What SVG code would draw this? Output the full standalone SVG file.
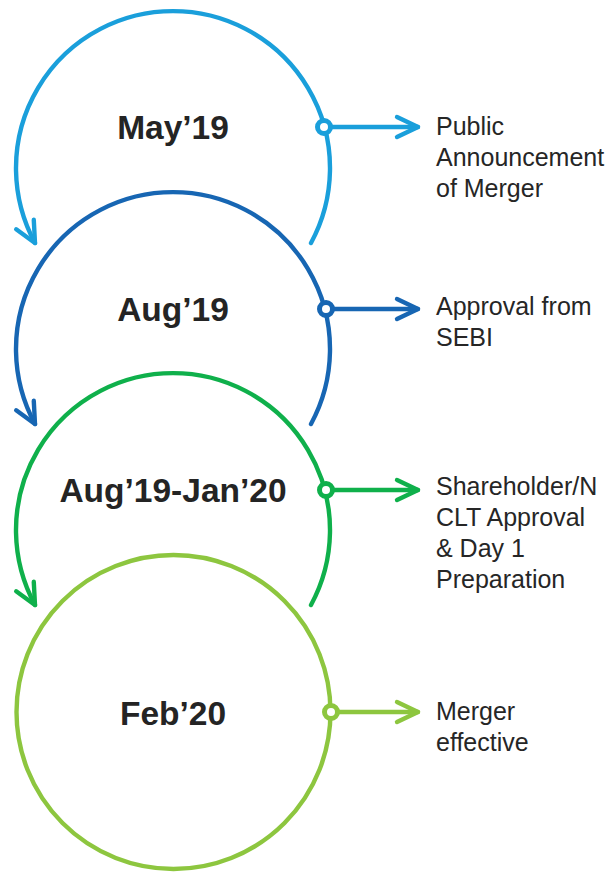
<svg xmlns="http://www.w3.org/2000/svg" width="610" height="873" viewBox="0 0 610 873">
  <style>
    .ring { fill: none; stroke-width: 4.4; stroke-linecap: round; }
    .dot { fill: #ffffff; stroke-width: 5; }
    .conn { fill: none; stroke-width: 4.4; stroke-linecap: round; }
    .date { font-family: "Liberation Sans", Arial, sans-serif; font-weight: bold; font-size: 33.5px; fill: #242424; text-anchor: middle; }
    .desc { font-family: "Liberation Sans", Arial, sans-serif; font-size: 25px; fill: #262626; }
    .c1 { stroke: #1a9fdb; }
    .c2 { stroke: #1766b3; }
    .c3 { stroke: #0fb04b; }
    .c4 { stroke: #8dc63f; }
  </style>
  <defs>
    <marker id="ah1" markerUnits="userSpaceOnUse" viewBox="-26 -14 30 28" refX="0" refY="0" markerWidth="30" markerHeight="28" orient="auto">
      <path d="M -21 -10 L 0 0 L -21 10" fill="none" stroke="#1a9fdb" stroke-width="4.4" stroke-linecap="round" stroke-linejoin="round"/>
    </marker>
    <marker id="ah2" markerUnits="userSpaceOnUse" viewBox="-26 -14 30 28" refX="0" refY="0" markerWidth="30" markerHeight="28" orient="auto">
      <path d="M -21 -10 L 0 0 L -21 10" fill="none" stroke="#1766b3" stroke-width="4.4" stroke-linecap="round" stroke-linejoin="round"/>
    </marker>
    <marker id="ah3" markerUnits="userSpaceOnUse" viewBox="-26 -14 30 28" refX="0" refY="0" markerWidth="30" markerHeight="28" orient="auto">
      <path d="M -21 -10 L 0 0 L -21 10" fill="none" stroke="#0fb04b" stroke-width="4.4" stroke-linecap="round" stroke-linejoin="round"/>
    </marker>
    <marker id="ah4" markerUnits="userSpaceOnUse" viewBox="-26 -14 30 28" refX="0" refY="0" markerWidth="30" markerHeight="28" orient="auto">
      <path d="M -21 -10 L 0 0 L -21 10" fill="none" stroke="#8dc63f" stroke-width="4.4" stroke-linecap="round" stroke-linejoin="round"/>
    </marker>
  </defs>

  <g id="step-may19">
    <path class="ring c1" d="M 311 243 A 157 157 0 1 0 35 243" marker-end="url(#ah1)"/>
    <text class="date" x="173" y="139">May’19</text>
  </g>

  <g id="step-aug19">
    <path class="ring c2" d="M 311 424 A 157 157 0 1 0 35 424" marker-end="url(#ah2)"/>
    <text class="date" x="173" y="321">Aug’19</text>
  </g>

  <g id="step-aug19-jan20">
    <path class="ring c3" d="M 311 605 A 157 157 0 1 0 35 605" marker-end="url(#ah3)"/>
    <text class="date" x="173" y="502">Aug’19-Jan’20</text>
  </g>

  <g id="step-feb20">
    <circle class="ring c4" cx="173.5" cy="712" r="157"/>
    <text class="date" x="173" y="725">Feb’20</text>
  </g>

  <g id="note-public-announcement">
    <text class="desc" x="436" y="135">Public</text>
    <text class="desc" x="436" y="166">Announcement</text>
    <text class="desc" x="436" y="197">of Merger</text>
  </g>

  <g id="note-sebi">
    <text class="desc" x="436" y="315">Approval from</text>
    <text class="desc" x="436" y="346">SEBI</text>
  </g>

  <g id="note-shareholder">
    <text class="desc" x="436" y="495">Shareholder/N</text>
    <text class="desc" x="436" y="526">CLT Approval</text>
    <text class="desc" x="436" y="557">&amp; Day 1</text>
    <text class="desc" x="436" y="588">Preparation</text>
  </g>

  <g id="note-merger-effective">
    <text class="desc" x="436" y="720">Merger</text>
    <text class="desc" x="436" y="751">effective</text>
  </g>

  <g id="connectors">
    <line class="conn c1" x1="324" y1="127" x2="418" y2="127" marker-end="url(#ah1)"/>
    <circle class="dot c1" cx="324" cy="127" r="6.5"/>
    <line class="conn c2" x1="326" y1="309" x2="418" y2="309" marker-end="url(#ah2)"/>
    <circle class="dot c2" cx="326" cy="309" r="6.5"/>
    <line class="conn c3" x1="326" y1="490" x2="418" y2="490" marker-end="url(#ah3)"/>
    <circle class="dot c3" cx="326" cy="490" r="6.5"/>
    <line class="conn c4" x1="331" y1="712" x2="418" y2="712" marker-end="url(#ah4)"/>
    <circle class="dot c4" cx="331" cy="712" r="6.5"/>
  </g>
</svg>
